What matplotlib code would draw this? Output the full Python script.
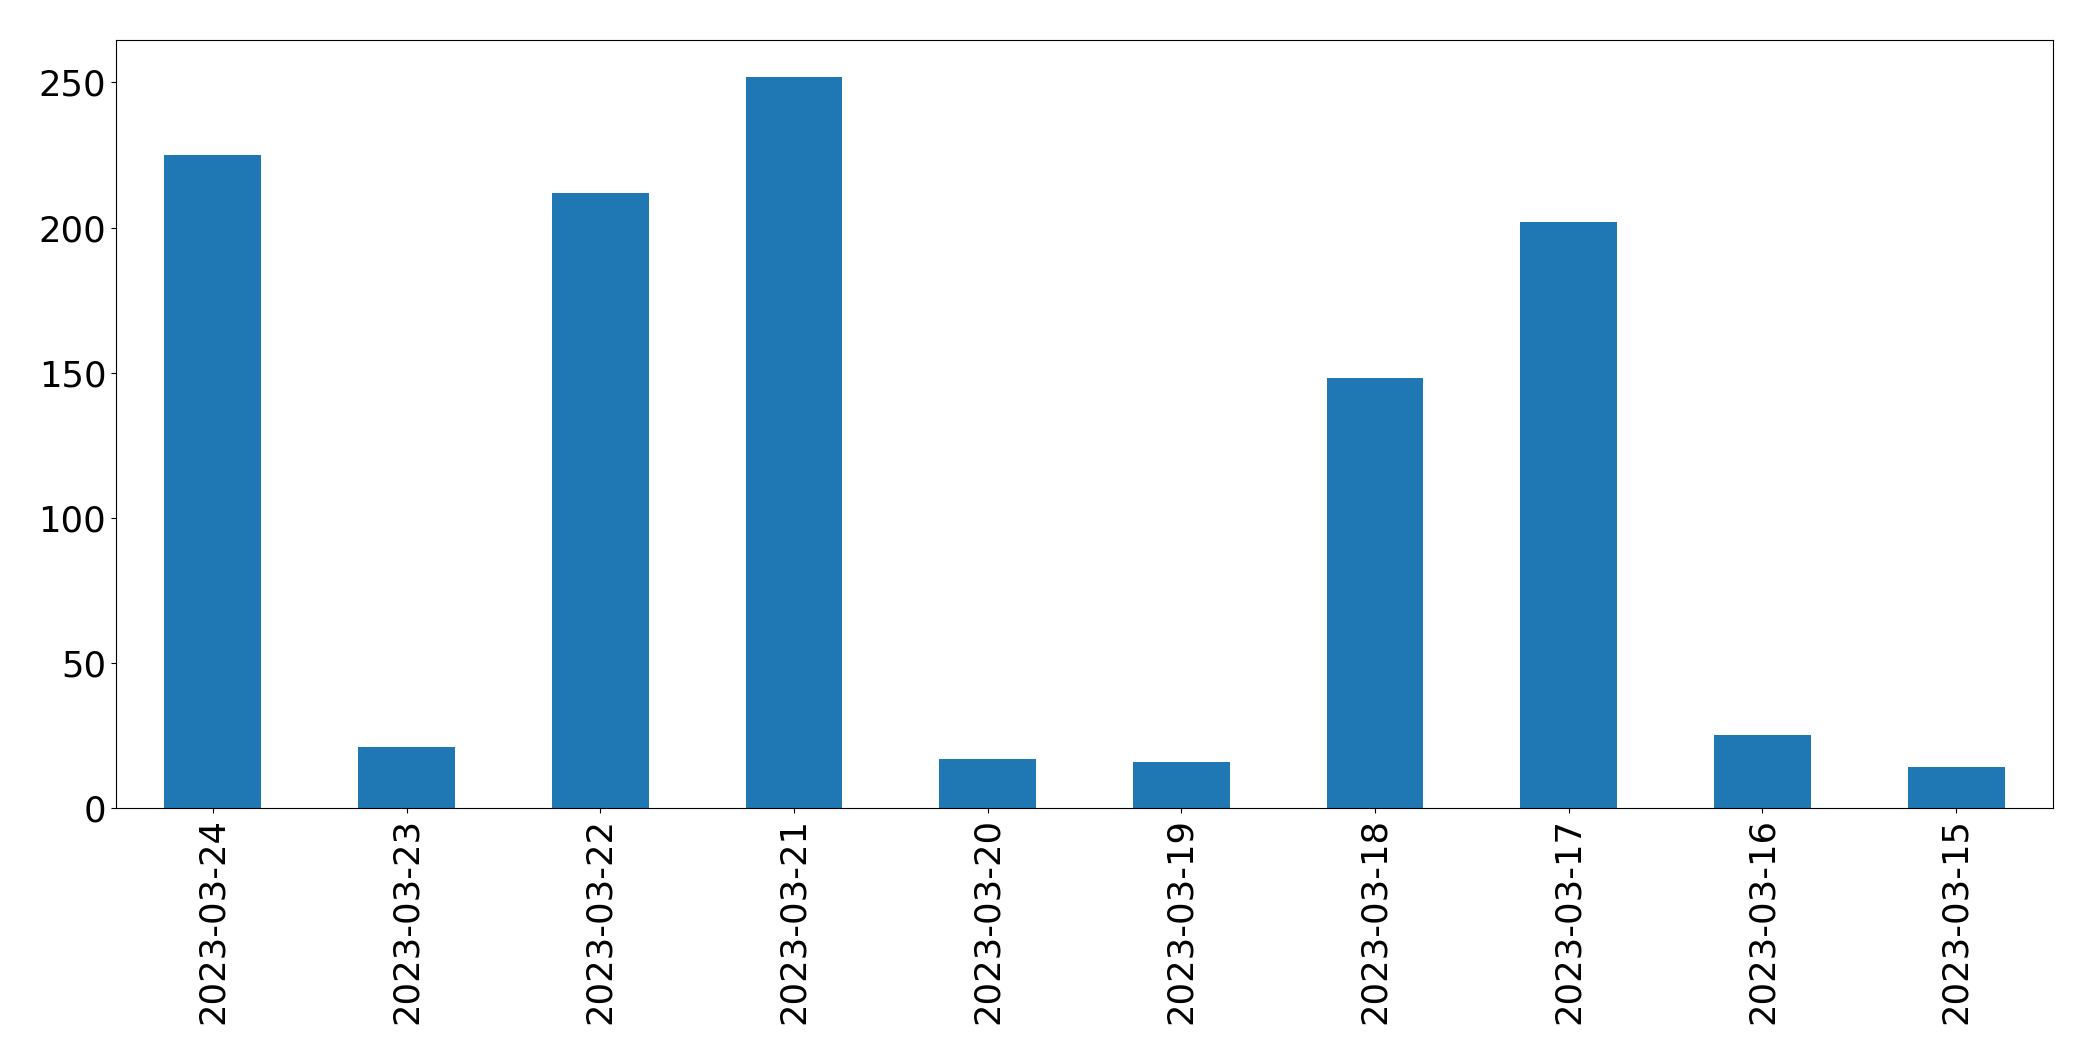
import matplotlib
matplotlib.use('Agg')
import matplotlib.pyplot as plt
import numpy as np

# 每日数量
dates = ['2023-03-24', '2023-03-23', '2023-03-22', '2023-03-21', '2023-03-20',
         '2023-03-19', '2023-03-18', '2023-03-17', '2023-03-16', '2023-03-15']
counts = [225, 21, 212, 252, 17, 16, 148, 202, 25, 14]

fig = plt.figure(figsize=(20.93, 10.61), dpi=100)
ax = fig.add_axes([116 / 2093, 1 - 808 / 1061, (2053 - 116) / 2093, (808 - 40) / 1061])

x = np.arange(len(dates))
ax.bar(x, counts, width=0.5, color='#1f77b4')
ax.set_xlim(-0.5, len(dates) - 0.5)
ax.set_xticks(x)
ax.set_xticklabels(dates, rotation=90)
ax.set_yticks(range(0, 251, 50))
ax.tick_params(axis='both', labelsize=25.5)

fig.savefig('out.png', dpi=100)
